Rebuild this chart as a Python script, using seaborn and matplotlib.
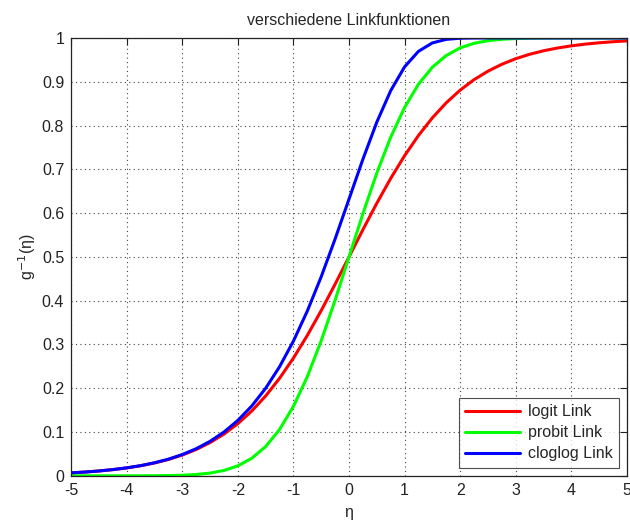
import matplotlib
matplotlib.use("Agg")
import matplotlib.pyplot as plt
import seaborn as sns
import pandas as pd

# eta values read along the x axis
eta = [-5, -4.75, -4.5, -4.25, -4, -3.75, -3.5, -3.25, -3, -2.75, -2.5,
       -2.25, -2, -1.75, -1.5, -1.25, -1, -0.75, -0.5, -0.25, 0,
       0.25, 0.5, 0.75, 1, 1.25, 1.5, 1.75, 2, 2.25, 2.5,
       2.75, 3, 3.25, 3.5, 3.75, 4, 4.25, 4.5, 4.75, 5]

logit_vals = [0.0067, 0.0086, 0.0110, 0.0141, 0.0180, 0.0230, 0.0293, 0.0373,
              0.0474, 0.0601, 0.0759, 0.0953, 0.1192, 0.1480, 0.1824, 0.2227,
              0.2689, 0.3208, 0.3775, 0.4378, 0.5000, 0.5622, 0.6225, 0.6792,
              0.7311, 0.7773, 0.8176, 0.8520, 0.8808, 0.9047, 0.9241, 0.9399,
              0.9526, 0.9627, 0.9707, 0.9770, 0.9820, 0.9859, 0.9890, 0.9914,
              0.9933]

probit_vals = [0.0000, 0.0000, 0.0000, 0.0000, 0.0000, 0.0001, 0.0002, 0.0006,
               0.0013, 0.0030, 0.0062, 0.0122, 0.0228, 0.0401, 0.0668, 0.1057,
               0.1587, 0.2266, 0.3085, 0.4013, 0.5000, 0.5987, 0.6915, 0.7734,
               0.8413, 0.8944, 0.9332, 0.9599, 0.9773, 0.9878, 0.9938, 0.9970,
               0.9987, 0.9994, 0.9998, 0.9999, 1.0000, 1.0000, 1.0000, 1.0000,
               1.0000]

cloglog_vals = [0.0067, 0.0086, 0.0110, 0.0142, 0.0182, 0.0232, 0.0298, 0.0380,
                0.0486, 0.0619, 0.0788, 0.1000, 0.1266, 0.1595, 0.2000, 0.2491,
                0.3078, 0.3765, 0.4548, 0.5411, 0.6321, 0.7231, 0.8077, 0.8796,
                0.9340, 0.9695, 0.9887, 0.9968, 0.9994, 0.9999, 1.0000, 1.0000,
                1.0000, 1.0000, 1.0000, 1.0000, 1.0000, 1.0000, 1.0000, 1.0000,
                1.0000]

link_names = ["logit Link", "probit Link", "cloglog Link"]
link_colors = ["#ff0000", "#00ff00", "#0000ff"]
x_ticks = [-5, -4, -3, -2, -1, 0, 1, 2, 3, 4, 5]
y_ticks = [0, 0.1, 0.2, 0.3, 0.4, 0.5, 0.6, 0.7, 0.8, 0.9, 1]


def build_frame():
    frames = []
    for name, vals in zip(link_names, [logit_vals, probit_vals, cloglog_vals]):
        frames.append(pd.DataFrame({"eta": eta, "value": vals, "Link": name}))
    return pd.concat(frames, ignore_index=True)


def main():
    sns.set_style("white")
    plt.rcParams["font.family"] = ["Liberation Sans", "DejaVu Sans"]

    df = build_frame()

    fig = plt.figure(figsize=(6.3, 5.2), dpi=100)
    ax = fig.add_axes([0.113, 0.085, 0.882, 0.842])

    sns.lineplot(data=df, x="eta", y="value", hue="Link", hue_order=link_names,
                 palette=link_colors, linewidth=2.2, ax=ax, sort=False)

    fs = 11.5
    ax.set_xlim(-5, 5)
    ax.set_ylim(0, 1)
    ax.set_xticks(x_ticks)
    ax.set_yticks(y_ticks)
    ax.set_xticklabels([str(t) for t in x_ticks])
    ax.set_yticklabels([f"{t:g}" for t in y_ticks])
    ax.tick_params(direction="in", top=True, right=True, length=5,
                   width=0.8, labelsize=fs, colors="#222222", pad=5)

    ax.grid(True, linestyle=(0, (1, 3)), color="#444444", linewidth=0.8)
    for spine in ax.spines.values():
        spine.set_color("#222222")
        spine.set_linewidth(0.9)

    ax.set_title("verschiedene Linkfunktionen", fontsize=fs, pad=9)
    ax.set_xlabel("η", fontsize=fs, labelpad=5)
    ax.set_ylabel("g$^{-1}$(η)", fontsize=fs, labelpad=3)

    leg = ax.legend(loc="lower right", fontsize=fs, frameon=True, fancybox=False,
                    edgecolor="#222222", handlelength=3.4, borderaxespad=0.5,
                    labelspacing=0.38, handletextpad=0.5)
    leg.get_frame().set_linewidth(0.8)

    fig.savefig("out.png", dpi=100)


if __name__ == "__main__":
    main()
